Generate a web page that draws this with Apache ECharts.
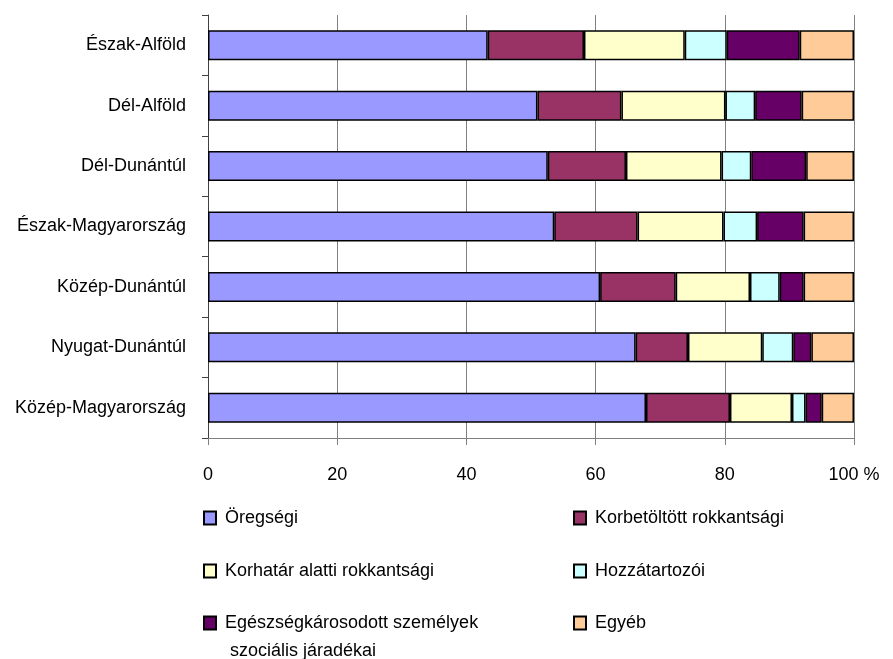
<!DOCTYPE html>
<html>
<head>
<meta charset="utf-8">
<script src="https://cdn.jsdelivr.net/npm/echarts@6/dist/echarts.min.js"></script>
<style>
html,body{margin:0;padding:0;background:#fff;}
#chart{width:893px;height:659px;}
</style>
</head>
<body>
<div id="chart"></div>
<script>
const categories = ['Észak-Alföld','Dél-Alföld','Dél-Dunántúl','Észak-Magyarország','Közép-Dunántúl','Nyugat-Dunántúl','Közép-Magyarország'];
const seriesNames = ['Öregségi','Korbetöltött rokkantsági','Korhatár alatti rokkantsági','Hozzátartozói','Egészségkárosodott személyek szociális járadékai','Egyéb'];
const oregsegi      = [43.3, 51.0, 52.6, 53.6, 60.7, 66.2, 67.8];
const korbetoltott  = [14.9, 13.0, 12.1, 12.9, 11.7, 8.1, 13.0];
const korhatar      = [15.6, 16.1, 14.8, 13.3, 11.5, 11.5, 9.6];
const hozzatartozoi = [6.5, 4.6, 4.6, 5.2, 4.6, 4.8, 2.1];
const egeszseg      = [11.3, 7.2, 8.5, 7.2, 3.7, 2.8, 2.5];
const egyeb         = [8.4, 8.1, 7.4, 7.8, 7.8, 6.6, 5.0];
const xTicks = [0, 20, 40, 60, 80, 100];

const values = [oregsegi, korbetoltott, korhatar, hozzatartozoi, egeszseg, egyeb];
const colors = ['#9999FF','#993366','#FFFFCC','#CCFFFF','#660066','#FFCC99'];
const FONT = "'Liberation Sans',Arial,sans-serif";
const FS = 18;

const chart = echarts.init(document.getElementById('chart'), null, {renderer:'canvas'});

const legendPos = [
  {left: 203, top: 504},
  {left: 573, top: 504},
  {left: 203, top: 557},
  {left: 573, top: 557},
  {left: 203, top: 581},
  {left: 573, top: 609}
];

const legends = seriesNames.map((n, i) => {
  const wrapped = i === 4;
  return {
    data: [n],
    left: legendPos[i].left,
    top: legendPos[i].top,
    icon: 'rect',
    itemWidth: 12,
    itemHeight: 13,
    itemGap: 0,
    padding: 0,
    formatter: wrapped ? function(){ return ' \nEgészségkárosodott személyek\n szociális járadékai'; } : '{name}',
    textStyle: {
      fontFamily: FONT, fontSize: FS, color: '#000',
      lineHeight: 28,
      padding: [0, 0, 0, 4]
    }
  };
});

const option = {
  animation: false,
  backgroundColor: '#fff',
  grid: {left: 208, right: 39, top: 15, bottom: 221, containLabel: false, outerBoundsMode: 'none'},
  legend: legends,
  xAxis: {
    type: 'value', min: 0, max: 100, interval: 20,
    axisLine: {show: true, lineStyle: {color: '#808080', width: 1}},
    axisTick: {show: true, length: 7, lineStyle: {color: '#808080'}},
    splitLine: {show: true, lineStyle: {color: '#808080', width: 1}},
    axisLabel: {
      fontFamily: FONT, fontSize: FS, color: '#000', margin: 28,
      formatter: function(v){ return v === 100 ? '100 %' : String(v); }
    }
  },
  yAxis: {
    type: 'category', data: categories, inverse: true,
    axisLine: {show: true, lineStyle: {color: '#404040', width: 1}},
    axisTick: {show: true, length: 6, lineStyle: {color: '#404040'}},
    axisLabel: {fontFamily: FONT, fontSize: FS, color: '#000', margin: 22}
  },
  series: seriesNames.map((n, i) => ({
    name: n, type: 'bar', stack: 'total', data: values[i],
    barWidth: 30,
    itemStyle: {color: colors[i], borderColor: '#000', borderWidth: 1.5},
    emphasis: {disabled: true}
  }))
};
chart.setOption(option);
</script>
</body>
</html>
